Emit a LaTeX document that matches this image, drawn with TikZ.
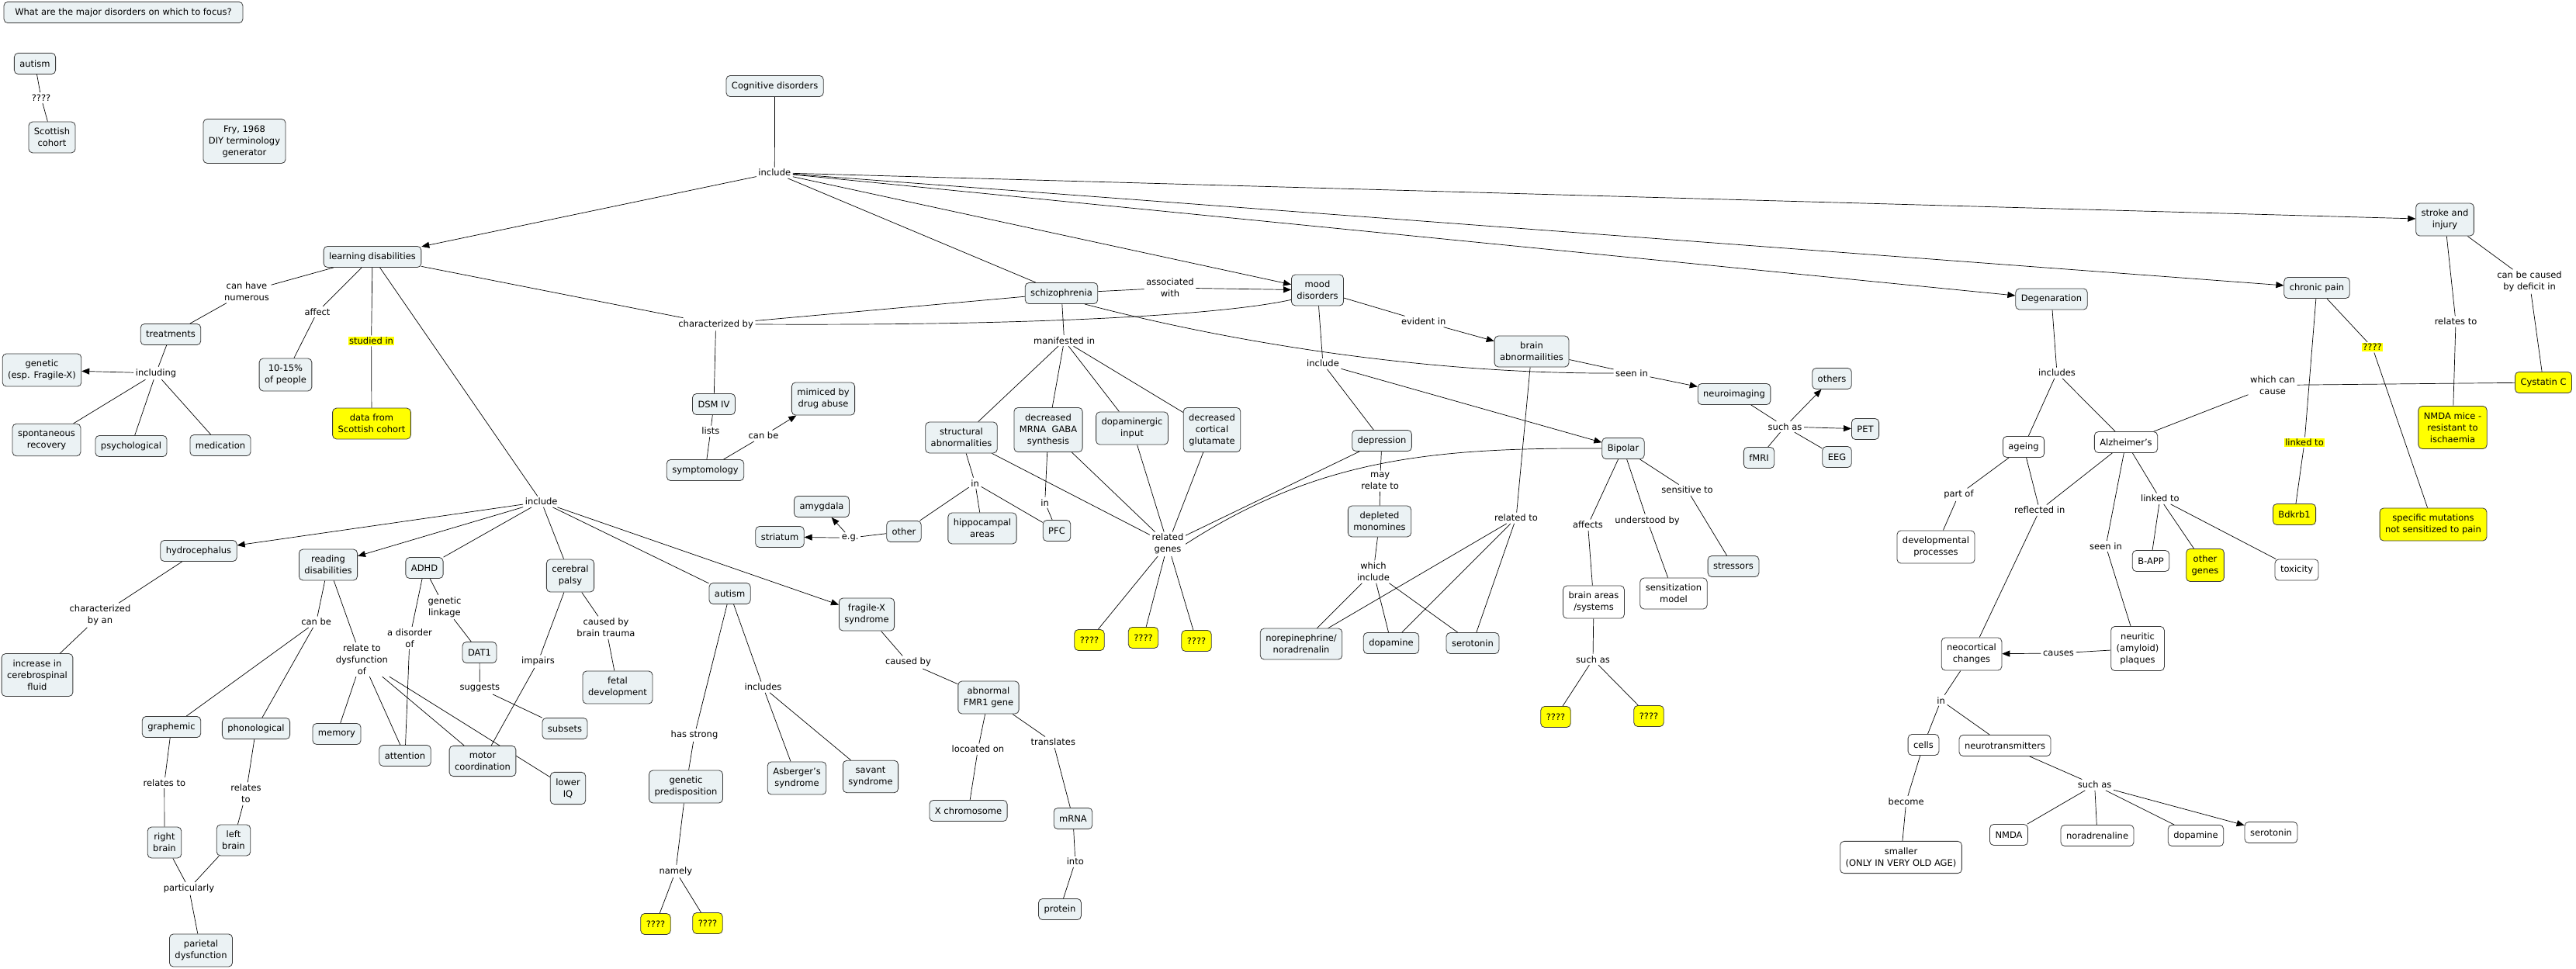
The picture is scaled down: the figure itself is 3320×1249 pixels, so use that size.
\documentclass[tikz,border=0pt]{standalone}
\usepackage{fontspec}
\setmainfont{DejaVu Sans}
\usetikzlibrary{arrows.meta,backgrounds}
\definecolor{cfill}{HTML}{EBF2F4}
\definecolor{cdraw}{HTML}{3A3A3A}
\definecolor{hiyellow}{HTML}{FFFF00}
\tikzset{
 base/.style={font=\fontsize{11.5}{15}\selectfont, align=center},
 cpt/.style={base, draw=cdraw, line width=0.8pt, rounded corners=5pt, fill=cfill, inner xsep=7pt, inner ysep=8pt, minimum height=27pt},
 wcpt/.style={cpt, fill=white},
 ycpt/.style={cpt, fill=hiyellow},
 lbl/.style={base, inner sep=2.5pt},
 ylbl/.style={base, fill=hiyellow, inner sep=1pt, outer sep=1.5pt},
 conn/.style={draw=black, line width=0.7pt},
 arr/.style={conn, -{Triangle[length=10pt,width=8pt]}},
}
\begin{document}
\begin{tikzpicture}[x=1pt,y=-1pt]
\useasboundingbox (0,0) rectangle (3320,1249);
% ---------- concepts ----------
\node[cpt, minimum width=308pt] (q) at (159,16) {What are the major disorders on which to focus?};
\node[cpt] (aut1) at (45,82) {autism};
\node[cpt] (scot) at (67,177) {Scottish\\cohort};
\node[cpt] (fry) at (315,182) {Fry, 1968\\DIY terminology\\generator};
\node[cpt] (cog) at (998.6,111) {Cognitive disorders};
\node[cpt] (ld) at (480,331) {learning disabilities};
\node[cpt] (treat) at (220,431) {treatments};
\node[cpt] (gen) at (54,477) {genetic\\(esp. Fragile-X)};
\node[cpt] (spont) at (60,567) {spontaneous\\recovery};
\node[cpt] (psych) at (169,575) {psychological};
\node[cpt] (med) at (284,574) {medication};
\node[cpt] (pct) at (368,483) {10-15\%\\of people};
\node[ycpt] (data) at (479,546) {data from\\Scottish cohort};
\node[cpt] (hydro) at (256,710) {hydrocephalus};
\node[cpt] (read) at (423,728) {reading\\disabilities};
\node[cpt] (adhd) at (547,732) {ADHD};
\node[cpt] (cp) at (735,742) {cerebral\\palsy};
\node[cpt] (csf) at (48,870) {increase in\\cerebrospinal\\fluid};
\node[cpt] (graph) at (221,937) {graphemic};
\node[cpt] (phon) at (330,939) {phonological};
\node[cpt] (mem) at (434,946) {memory};
\node[cpt] (att) at (522,974) {attention};
\node[cpt] (motor) at (622,981) {motor\\coordination};
\node[cpt] (subs) at (728,939) {subsets};
\node[cpt] (liq) at (732,1016) {lower\\IQ};
\node[cpt] (fetal) at (796,886) {fetal\\development};
\node[cpt] (dat) at (618,841) {DAT1};
\node[cpt] (rb) at (212,1086) {right\\brain};
\node[cpt] (lb) at (301,1083) {left\\brain};
\node[cpt] (par) at (259,1225) {parietal\\dysfunction};
\node[cpt] (aut2) at (940.6,765) {autism};
\node[cpt] (fx) at (1117,792) {fragile-X\\syndrome};
\node[cpt] (fmr) at (1274,899) {abnormal\\FMR1 gene};
\node[cpt] (gp) at (884,1014) {genetic\\predisposition};
\node[cpt] (asb) at (1027,1003) {Asberger's\\syndrome};
\node[cpt] (sav) at (1122,1001) {savant\\syndrome};
\node[cpt] (xch) at (1248,1045) {X chromosome};
\node[cpt] (mrna) at (1383,1055) {mRNA};
\node[cpt] (prot) at (1366,1172) {protein};
\node[ycpt] (qL) at (845,1191) {????};
\node[ycpt] (qR) at (912,1190) {????};
\node[cpt] (dsm) at (920,521) {DSM IV};
\node[cpt] (symp) at (909,606) {symptomology};
\node[cpt] (mim) at (1061,514) {mimiced by\\drug abuse};
\node[cpt] (amy) at (1059,653) {amygdala};
\node[cpt] (stri) at (1005,692) {striatum};
\node[cpt] (oth) at (1165,685) {other};
\node[cpt] (hip) at (1266,681) {hippocampal\\areas};
\node[cpt] (pfc) at (1362,684) {PFC};
\node[cpt] (struct) at (1239,564) {structural\\abnormalities};
\node[cpt] (gaba) at (1351,554) {decreased\\MRNA~~GABA\\synthesis};
\node[cpt] (dopi) at (1459,552) {dopaminergic\\input};
\node[cpt] (glut) at (1562,554) {decreased\\cortical\\glutamate};
\node[ycpt] (q1) at (1404,825) {????};
\node[ycpt] (q2) at (1473.5,822) {????};
\node[ycpt] (q3) at (1542,826) {????};
\node[cpt] (schiz) at (1368,378) {schizophrenia};
\node[cpt] (mood) at (1698,374) {mood\\disorders};
\node[cpt] (brainab) at (1974,453) {brain\\abnormailities};
\node[cpt] (neuro) at (2235,508) {neuroimaging};
\node[cpt] (others) at (2361,488) {others};
\node[cpt] (pet) at (2404,553) {PET};
\node[cpt] (fmri) at (2267,590) {fMRI};
\node[cpt] (eeg) at (2367.5,589) {EEG};
\node[cpt] (dep) at (1781,568) {depression};
\node[cpt] (bip) at (2092,578) {Bipolar};
\node[cpt] (depl) at (1778,672) {depleted\\monomines};
\node[cpt] (nor) at (1677,830) {norepinephrine/\\noradrenalin};
\node[cpt] (dopm) at (1793,829) {dopamine};
\node[cpt] (serm) at (1898,829) {serotonin};
\node[wcpt] (barea) at (2054,776) {brain areas\\/systems};
\node[wcpt] (sens) at (2157,765) {sensitization\\model};
\node[cpt] (stress) at (2234,730) {stressors};
\node[ycpt] (qa) at (2005,924) {????};
\node[ycpt] (qb) at (2125,923) {????};
\node[cpt] (degen) at (2644,385.5) {Degenaration};
\node[cpt] (chron) at (2986,371) {chronic pain};
\node[cpt] (stroke) at (3151,283) {stroke and\\injury};
\node[wcpt] (ageing) at (2608,576) {ageing};
\node[wcpt] (alz) at (2740,570) {Alzheimer's};
\node[wcpt] (dev) at (2495,705) {developmental\\processes};
\node[ycpt] (cyst) at (3278,493) {Cystatin C};
\node[ycpt] (nmda) at (3161,551) {NMDA mice -\\resistant to\\ischaemia};
\node[ycpt] (bdk) at (2957,663) {Bdkrb1};
\node[ycpt] (spec) at (3136,676) {specific mutations\\not sensitized to pain};
\node[wcpt] (bapp) at (2772,723) {B-APP};
\node[ycpt] (ogen) at (2842,728.5) {other\\genes};
\node[wcpt] (tox) at (2960,734.5) {toxicity};
\node[wcpt] (neoc) at (2541,843) {neocortical\\changes};
\node[wcpt] (neur) at (2755,836) {neuritic\\(amyloid)\\plaques};
\node[wcpt] (cells) at (2479,960) {cells};
\node[wcpt] (small) at (2450,1105) {smaller\\(ONLY IN VERY OLD AGE)};
\node[wcpt] (ntrans) at (2584,961) {neurotransmitters};
\node[wcpt] (nmdaN) at (2589,1076) {NMDA};
\node[wcpt] (nora) at (2703,1077) {noradrenaline};
\node[wcpt] (dopN) at (2830,1077) {dopamine};
\node[wcpt] (serN) at (2927,1073) {serotonin};
% ---------- linking phrases ----------
\node[lbl] (l_q) at (53,126) {????};
\node[lbl] (l_inc) at (998.3,222.7) {include};
\node[lbl] (l_chn) at (318,376) {can have\\numerous};
\node[lbl] (l_aff) at (409,402) {affect};
\node[ylbl] (l_stud) at (478.6,439.3) {studied in};
\node[lbl] (l_incl) at (201,481) {including};
\node[lbl] (l_inc2) at (697.7,646.7) {include};
\node[lbl] (l_charby) at (922.6,418) {characterized by};
\node[lbl] (l_assoc) at (1508,371) {associated\\with};
\node[lbl] (l_evid) at (1834.7,414.5) {evident in};
\node[lbl] (l_cbc) at (3260,363) {can be caused\\by deficit in};
\node[lbl] (l_rel) at (3165,414.5) {relates to};
\node[lbl] (l_chan) at (129,793) {characterized\\by an};
\node[lbl] (l_canbe) at (407.6,801.7) {can be};
\node[lbl] (l_gl) at (573,782.5) {genetic\\linkage};
\node[lbl] (l_dis) at (528,822.5) {a disorder\\of};
\node[lbl] (l_cbt) at (781,809) {caused by\\brain trauma};
\node[lbl] (l_rtd) at (466.4,850) {relate to\\dysfunction\\of};
\node[lbl] (l_sugg) at (618.3,887) {suggests};
\node[lbl] (l_imp) at (693.5,852.7) {impairs};
\node[lbl] (l_rt1) at (211.8,1009) {relates to};
\node[lbl] (l_rt2) at (317,1023) {relates\\to};
\node[lbl] (l_part) at (243.5,1145.3) {particularly};
\node[lbl] (l_cby) at (1170.4,853.7) {caused by};
\node[lbl] (l_incs) at (983.5,885.7) {includes};
\node[lbl] (l_hs) at (895,947.7) {has strong};
\node[lbl] (l_loc) at (1260.4,965.7) {locoated on};
\node[lbl] (l_tr) at (1357.3,956.7) {translates};
\node[lbl] (l_into) at (1385.8,1110.7) {into};
\node[lbl] (l_nam) at (870.8,1123) {namely};
\node[lbl] (l_lists) at (915.8,555.7) {lists};
\node[lbl] (l_canbe2) at (984,561.7) {can be};
\node[lbl] (l_eg) at (1095.7,693.3) {e.g.};
\node[lbl] (l_in1) at (1256.7,622.7) {in};
\node[lbl] (l_in2) at (1346.7,647.7) {in};
\node[lbl] (l_man) at (1371.6,439) {manifested in};
\node[lbl] (l_rg) at (1505,701.3) {related\\genes};
\node[lbl] (l_seen) at (2103,481) {seen in};
\node[lbl] (l_such) at (2300.5,550) {such as};
\node[lbl] (l_incm) at (1705,468.7) {include};
\node[lbl] (l_may) at (1778.6,620) {may\\relate to};
\node[lbl] (l_wi) at (1770,737) {which\\include};
\node[lbl] (l_relto) at (1954,667.7) {related to};
\node[lbl] (l_aff2) at (2046.5,676.7) {affects};
\node[lbl] (l_und) at (2123,671) {understood by};
\node[lbl] (l_sens) at (2174.6,631.7) {sensitive to};
\node[lbl] (l_such2) at (2053,850) {such as};
\node[lbl] (l_incs2) at (2651,480.7) {includes};
\node[lbl] (l_wcc) at (2929,496.5) {which can\\cause};
\node[ylbl] (l_qq) at (3057.5,447.7) {????};
\node[ylbl] (l_lnk) at (2970,570.3) {linked to};
\node[lbl] (l_partof) at (2524.4,637.7) {part of};
\node[lbl] (l_refl) at (2628.7,657.7) {reflected in};
\node[lbl] (l_lnk2) at (2783.8,642.7) {linked to};
\node[lbl] (l_seen2) at (2714,704) {seen in};
\node[lbl] (l_causes) at (2653,842) {causes};
\node[lbl] (l_in3) at (2501.6,902.7) {in};
\node[lbl] (l_bec) at (2456.7,1033) {become};
\node[lbl] (l_such3) at (2699.6,1011.7) {such as};
% ---------- connectors ----------
\begin{pgfonlayer}{background}
\fill[white] (0,0) rectangle (3320,1249);
% arrows
\draw[arr] (l_inc) -- (ld);
\draw[arr] (l_inc) -- (mood);
\draw[arr] (l_inc) -- (degen);
\draw[arr] (l_inc) -- (chron);
\draw[arr] (l_inc) -- (stroke);
\draw[arr] (l_incl) -- (gen);
\draw[arr] (l_assoc) -- (mood);
\draw[arr] (l_evid) -- (brainab);
\draw[arr] (l_seen) -- (neuro);
\draw[arr] (l_such) -- (others);
\draw[arr] (l_such) -- (pet);
\draw[arr] (l_incm) -- (bip);
\draw[arr] (l_inc2) -- (hydro);
\draw[arr] (l_inc2) -- (read);
\draw[arr] (l_inc2) -- (fx);
\draw[arr] (l_canbe2) -- (mim);
\draw[arr] (l_eg) -- (stri);
\draw[arr] (l_eg) -- (amy);
\draw[arr] (l_causes) -- (neoc);
\draw[arr] (l_such3) -- (serN);
% plain lines
\draw[conn] (cog) -- (l_inc);
\draw[conn] (l_inc) -- (schiz);
\draw[conn] (aut1) -- (l_q) -- (scot);
\draw[conn] (ld) -- (l_chn) -- (treat);
\draw[conn] (ld) -- (l_aff) -- (pct);
\draw[conn] (ld) -- (l_stud) -- (data);
\draw[conn] (ld) -- (l_inc2);
\draw[conn] (ld) -- (l_charby);
\draw[conn] (treat) -- (l_incl);
\draw[conn] (l_incl) -- (spont);
\draw[conn] (l_incl) -- (psych);
\draw[conn] (l_incl) -- (med);
\draw[conn] (l_charby) -- (dsm);
\draw[conn] (l_charby) -- (schiz);
\draw[conn] (l_charby.east) .. controls (1350,420) and (1580,405) .. (mood.200);
\draw[conn] (schiz) -- (l_assoc);
\draw[conn] (schiz) -- (l_man);
\draw[conn] (l_man) -- (struct);
\draw[conn] (l_man) -- (gaba);
\draw[conn] (l_man) -- (dopi);
\draw[conn] (l_man) -- (glut);
\draw[conn] (struct) -- (l_in1);
\draw[conn] (l_in1) -- (oth);
\draw[conn] (l_in1) -- (hip);
\draw[conn] (l_in1) -- (pfc);
\draw[conn] (gaba) -- (l_in2) -- (pfc);
\draw[conn] (oth) -- (l_eg);
\draw[conn] (struct) -- (l_rg);
\draw[conn] (gaba) -- (l_rg);
\draw[conn] (dopi) -- (l_rg);
\draw[conn] (glut) -- (l_rg);
\draw[conn] (l_rg) -- (q1);
\draw[conn] (l_rg) -- (q2);
\draw[conn] (l_rg) -- (q3);
\draw[conn] (dep) -- (l_rg);
\draw[conn] (l_rg.east) .. controls (1700,590) and (1850,577) .. (bip.west);
\draw[conn] (schiz.-25) .. controls (1600,445) and (1850,482) .. (l_seen.west);
\draw[conn] (dsm) -- (l_lists) -- (symp);
\draw[conn] (symp) -- (l_canbe2);
\draw[conn] (mood) -- (l_evid);
\draw[conn] (mood) -- (l_incm);
\draw[conn] (l_incm) -- (dep);
\draw[conn] (dep) -- (l_may) -- (depl);
\draw[conn] (depl) -- (l_wi);
\draw[conn] (l_wi) -- (nor);
\draw[conn] (l_wi) -- (dopm);
\draw[conn] (l_wi) -- (serm);
\draw[conn] (brainab) -- (l_relto);
\draw[conn] (l_relto) -- (nor);
\draw[conn] (l_relto) -- (dopm);
\draw[conn] (l_relto) -- (serm);
\draw[conn] (brainab) -- (l_seen);
\draw[conn] (neuro) -- (l_such);
\draw[conn] (l_such) -- (fmri);
\draw[conn] (l_such) -- (eeg);
\draw[conn] (bip) -- (l_aff2) -- (barea);
\draw[conn] (bip) -- (l_und) -- (sens);
\draw[conn] (bip) -- (l_sens) -- (stress);
\draw[conn] (barea) -- (l_such2);
\draw[conn] (l_such2) -- (qa);
\draw[conn] (l_such2) -- (qb);
\draw[conn] (l_inc2) -- (adhd);
\draw[conn] (l_inc2) -- (cp);
\draw[conn] (l_inc2) -- (aut2);
\draw[conn] (hydro) -- (l_chan) -- (csf);
\draw[conn] (read) -- (l_canbe);
\draw[conn] (l_canbe) -- (graph);
\draw[conn] (l_canbe) -- (phon);
\draw[conn] (read) -- (l_rtd);
\draw[conn] (l_rtd) -- (mem);
\draw[conn] (l_rtd) -- (att);
\draw[conn] (l_rtd) -- (motor);
\draw[conn] (l_rtd) -- (liq);
\draw[conn] (adhd) -- (l_dis) -- (att);
\draw[conn] (adhd) -- (l_gl) -- (dat);
\draw[conn] (dat) -- (l_sugg) -- (subs);
\draw[conn] (cp) -- (l_imp) -- (motor);
\draw[conn] (cp) -- (l_cbt) -- (fetal);
\draw[conn] (graph) -- (l_rt1) -- (rb);
\draw[conn] (phon) -- (l_rt2) -- (lb);
\draw[conn] (rb) -- (l_part);
\draw[conn] (lb) -- (l_part);
\draw[conn] (l_part) -- (par);
\draw[conn] (aut2) -- (l_hs) -- (gp);
\draw[conn] (gp) -- (l_nam);
\draw[conn] (l_nam) -- (qL);
\draw[conn] (l_nam) -- (qR);
\draw[conn] (aut2) -- (l_incs);
\draw[conn] (l_incs) -- (asb);
\draw[conn] (l_incs) -- (sav);
\draw[conn] (fx) -- (l_cby) -- (fmr);
\draw[conn] (fmr) -- (l_loc) -- (xch);
\draw[conn] (fmr) -- (l_tr) -- (mrna);
\draw[conn] (mrna) -- (l_into) -- (prot);
\draw[conn] (degen) -- (l_incs2);
\draw[conn] (l_incs2) -- (ageing);
\draw[conn] (l_incs2) -- (alz);
\draw[conn] (ageing) -- (l_partof) -- (dev);
\draw[conn] (ageing) -- (l_refl);
\draw[conn] (alz) -- (l_refl);
\draw[conn] (l_refl) -- (neoc);
\draw[conn] (alz) -- (l_seen2) -- (neur);
\draw[conn] (neur) -- (l_causes);
\draw[conn] (alz) -- (l_lnk2);
\draw[conn] (l_lnk2) -- (bapp);
\draw[conn] (l_lnk2) -- (ogen);
\draw[conn] (l_lnk2) -- (tox);
\draw[conn] (neoc) -- (l_in3);
\draw[conn] (l_in3) -- (cells);
\draw[conn] (l_in3) -- (ntrans);
\draw[conn] (cells) -- (l_bec) -- (small);
\draw[conn] (ntrans) -- (l_such3);
\draw[conn] (l_such3) -- (nmdaN);
\draw[conn] (l_such3) -- (nora);
\draw[conn] (l_such3) -- (dopN);
\draw[conn] (alz) -- (l_wcc);
\draw[conn] (l_wcc) -- (cyst);
\draw[conn] (chron) -- (l_lnk) -- (bdk);
\draw[conn] (chron) -- (l_qq) -- (spec);
\draw[conn] (stroke) -- (l_rel) -- (nmda);
\draw[conn] (stroke) -- (l_cbc) -- (cyst);
\end{pgfonlayer}
\end{tikzpicture}
\end{document}
